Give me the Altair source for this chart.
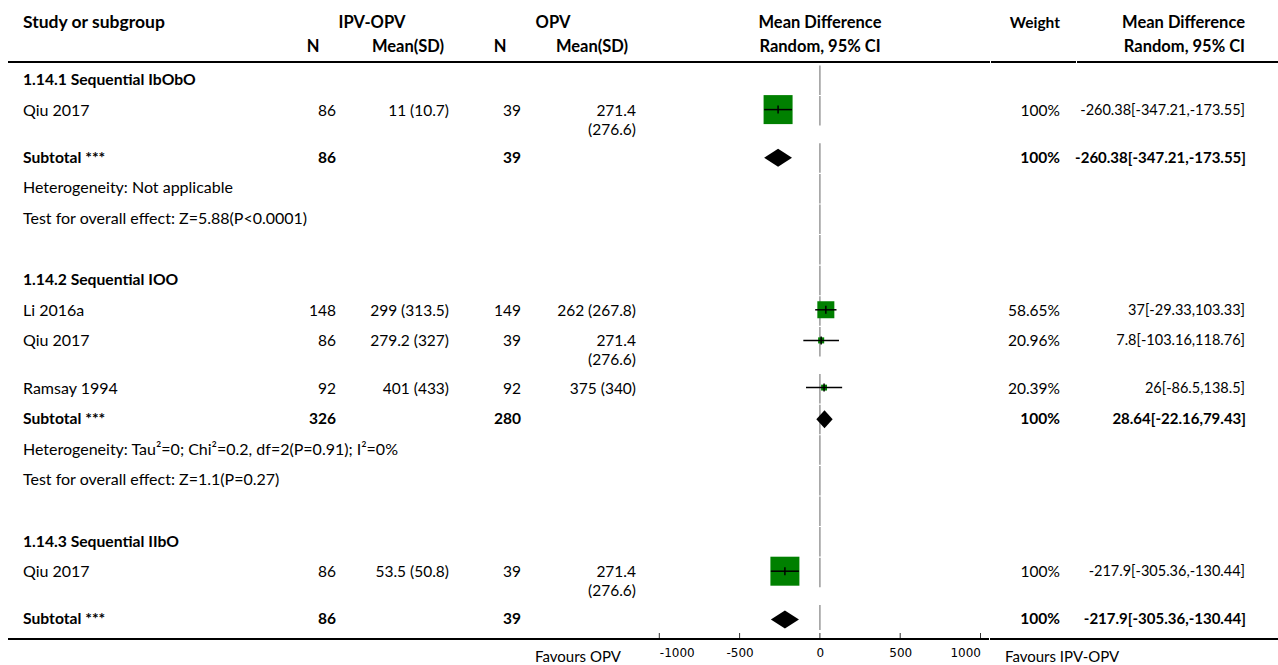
import altair as alt
import pandas as pd

# ---------------- data ----------------
groups = ["1.14.1 Sequential IbObO", "1.14.2 Sequential IOO", "1.14.3 Sequential IIbO"]
study_group = [0, 1, 1, 1, 2]
study_names = ["Qiu 2017", "Li 2016a", "Qiu 2017", "Ramsay 1994", "Qiu 2017"]
ipv_n = [86, 148, 86, 92, 86]
ipv_mean = ["11", "299", "279.2", "401", "53.5"]
ipv_sd = ["10.7", "313.5", "327", "433", "50.8"]
opv_n = [39, 149, 39, 92, 39]
opv_mean = ["271.4", "262", "271.4", "375", "271.4"]
opv_sd = ["276.6", "267.8", "276.6", "340", "276.6"]
weights = [100, 58.65, 20.96, 20.39, 100]
md = [-260.38, 37, 7.8, 26, -217.9]
md_lo = [-347.21, -29.33, -103.16, -86.5, -305.36]
md_hi = [-173.55, 103.33, 118.76, 138.5, -130.44]

sub_n1 = [86, 326, 86]
sub_n2 = [39, 280, 39]
sub_md = [-260.38, 28.64, -217.9]
sub_lo = [-347.21, -22.16, -305.36]
sub_hi = [-173.55, 79.43, -130.44]
heterogeneity = [
    "Heterogeneity: Not applicable",
    "Heterogeneity: Tau\u00b2=0; Chi\u00b2=0.2, df=2(P=0.91); I\u00b2=0%",
    None,
]
overall_effect = [
    "Test for overall effect: Z=5.88(P<0.0001)",
    "Test for overall effect: Z=1.1(P=0.27)",
    None,
]
axis_ticks = [-1000, -500, 0, 500, 1000]

# ---------------- layout ----------------
FONT = "Lato"
TOP_ROW = 80.0
STEP = 30.6
WRAP_EXTRA = 16.6
WRAP_LEN = 11

# column: (x, align, regular size, bold size)
COLS = {
    "study": (23, "left", 16, 15.7),
    "n1": (336, "right", 15.5, 15.5),
    "m1": (449, "right", 15.5, 15.5),
    "n2": (521, "right", 15.5, 15.5),
    "m2": (636, "right", 15.5, 15.5),
    "w": (1060, "right", 15.5, 15.5),
    "ci": (1245, "right", 14.5, 15),
}


def fmt(v):
    return f"{v:g}"


def ci_text(m, lo, hi):
    return f"{fmt(m)}[{fmt(lo)},{fmt(hi)}]"


texts = []      # col, y, t, bold
bands = []      # vertical zero-line pieces
studies = []    # forest rows for studies
diamonds = []   # pooled estimates


def add(col, y, t, bold=False):
    texts.append({"col": col, "y": y, "t": t, "bold": bold})


y = TOP_ROW
for g, gname in enumerate(groups):
    add("study", y, gname, True)
    bands.append({"y": y - 15, "y2": y + 15, "zero": 0})
    y += STEP
    for i, sg in enumerate(study_group):
        if sg != g:
            continue
        add("study", y, study_names[i])
        add("n1", y, str(ipv_n[i]))
        add("n2", y, str(opv_n[i]))
        wrapped = False
        for col, mean, sd in (("m1", ipv_mean[i], ipv_sd[i]), ("m2", opv_mean[i], opv_sd[i])):
            label = f"{mean} ({sd})"
            if len(label) > WRAP_LEN:
                add(col, y, mean)
                add(col, y + 19, f"({sd})")
                wrapped = True
            else:
                add(col, y, label)
        add("w", y, f"{fmt(weights[i])}%")
        add("ci", y, ci_text(md[i], md_lo[i], md_hi[i]))
        studies.append({"yc": y - 1, "t0": y - 5, "t1": y + 3, "md": md[i],
                        "lo": md_lo[i], "hi": md_hi[i], "w": weights[i]})
        bands.append({"y": y - 15, "y2": y + 15, "zero": 0})
        y += STEP + (WRAP_EXTRA if wrapped else 0)
    # subtotal row
    add("study", y, "Subtotal ***", True)
    add("n1", y, str(sub_n1[g]), True)
    add("n2", y, str(sub_n2[g]), True)
    add("w", y, "100%", True)
    add("ci", y, ci_text(sub_md[g], sub_lo[g], sub_hi[g]), True)
    diamonds += [
        {"id": g, "x": sub_lo[g], "top": y, "bot": y},
        {"id": g, "x": sub_md[g], "top": y - 9, "bot": y + 9},
        {"id": g, "x": sub_hi[g], "top": y, "bot": y},
    ]
    bands.append({"y": y - 15, "y2": min(y + 15, 630), "zero": 0})
    y += STEP
    if heterogeneity[g]:
        add("study", y, heterogeneity[g])
        bands.append({"y": y - 15, "y2": y + 15, "zero": 0})
        y += STEP
        add("study", y, overall_effect[g])
        bands.append({"y": y - 15, "y2": y + 15, "zero": 0})
        y += STEP
    if g < len(groups) - 1:
        bands.append({"y": y - 15, "y2": y + 15, "zero": 0})
        y += STEP

text_df = pd.DataFrame(texts)
band_df = pd.DataFrame(bands)
band_df["y"] = band_df["y"] + 0.5
study_df = pd.DataFrame(studies)
diamond_df = pd.DataFrame(diamonds)
tick_df = pd.DataFrame({"tick": axis_ticks})
one_df = pd.DataFrame({"k": [0]})  # single row for fixed annotations

# ---------------- scales ----------------
yscale = alt.Scale(domain=[0, 639], range=[0, 639], nice=False, zero=False)
xscale = alt.Scale(domain=[-1000, 1000], range=[659.3, 980.5], nice=False, zero=False)
xaxis = alt.Axis(values=axis_ticks, ticks=False, domain=False, grid=False,
                 labelFlush=True, labelPadding=8, labelFont="DejaVu Sans",
                 labelFontSize=12, labelColor="black", title=None,
                 labelExpr="'' + datum.value")


def X(field):
    return alt.X(f"{field}:Q", scale=xscale, axis=xaxis)


def Y(field):
    return alt.Y(f"{field}:Q", scale=yscale, axis=None)


def Y2(field):
    return alt.Y2(f"{field}:Q")


layers = []

# zero line
layers.append(
    alt.Chart(band_df).mark_rule(color="#999999", strokeWidth=1.5).encode(
        x=X("zero"), y=Y("y"), y2=Y2("y2"))
)

# squares sized by weight
layers.append(
    alt.Chart(study_df).mark_square(color="#008000", opacity=1).encode(
        x=X("md"), y=Y("yc"),
        size=alt.Size("w:Q", scale=alt.Scale(type="pow", exponent=2, domain=[0, 100], range=[0, 841]),
                      legend=None))
)
# confidence intervals
layers.append(
    alt.Chart(study_df).mark_rule(color="black", strokeWidth=1.5).encode(
        x=X("lo"), x2=alt.X2("hi:Q"), y=Y("yc"))
)
layers.append(
    alt.Chart(study_df).mark_rule(color="black", strokeWidth=1.5).encode(
        x=X("md"), y=Y("t0"), y2=Y2("t1"))
)
# pooled diamonds
layers.append(
    alt.Chart(diamond_df).mark_area(color="black", opacity=1, interpolate="linear").encode(
        x=X("x"), y=Y("top"), y2=Y2("bot"), detail="id:N")
)
# axis ticks pointing up from the baseline
layers.append(
    alt.Chart(tick_df).mark_rule(color="#333333", strokeWidth=1).encode(
        x=X("tick"), y=alt.value(633), y2=alt.value(639))
)

# horizontal rules
for (x0, x1, yy) in [(8, 990, 62), (991, 1076, 62), (1077, 1278, 62),
                     (8, 989, 639), (990, 1278, 639)]:
    layers.append(
        alt.Chart(one_df).mark_rule(color="black", strokeWidth=2).encode(
            x=alt.value(x0), x2=alt.value(x1), y=alt.value(yy))
    )

# table text
for col, (cx, align, fs_reg, fs_bold) in COLS.items():
    for bold in (False, True):
        sub = text_df[(text_df["col"] == col) & (text_df["bold"] == bold)]
        if sub.empty:
            continue
        layers.append(
            alt.Chart(sub).mark_text(align=align, baseline="middle", font=FONT,
                                     fontSize=fs_bold if bold else fs_reg,
                                     fontWeight="bold" if bold else "normal", color="black").encode(
                x=alt.value(cx + (1 if (bold and col == "ci") else 0)), y=Y("y"), text="t:N")
        )

# column headers
headers = [
    ("Study or subgroup", 23, 22, "left", 17.5),
    ("IPV-OPV", 372, 22, "center", 16.5),
    ("OPV", 553, 22, "center", 16.5),
    ("Mean Difference", 820, 22, "center", 16.5),
    ("Weight", 1060, 22, "right", 15.5),
    ("Mean Difference", 1245, 22, "right", 16.5),
    ("N", 313, 46, "center", 16.5),
    ("Mean(SD)", 408, 46, "center", 16.5),
    ("N", 500, 46, "center", 16.5),
    ("Mean(SD)", 592, 46, "center", 16.5),
    ("Random, 95% CI", 820, 46, "center", 16.5),
    ("Random, 95% CI", 1245, 46, "right", 16.5),
]
for (t, hx, hy, align, fs) in headers:
    layers.append(
        alt.Chart(one_df).mark_text(text=t, align=align, baseline="middle", font=FONT,
                                    fontSize=fs, fontWeight="bold", color="black").encode(
            x=alt.value(hx), y=alt.value(hy + 0.5))
    )

# favours labels
for (t, fx, align) in [("Favours OPV", 621, "right"), ("Favours IPV-OPV", 1005, "left")]:
    layers.append(
        alt.Chart(one_df).mark_text(text=t, align=align, baseline="middle", font=FONT, fontSize=15,
                                    fontWeight="normal", color="black").encode(
            x=alt.value(fx), y=alt.value(657))
    )

chart = alt.layer(*layers).properties(
    width=1278, height=639, autosize="none",
    padding={"left": 0, "top": 0, "right": 0, "bottom": 26},
).configure_view(stroke=None)

chart.save("out.html", embed_options={"renderer": "svg", "actions": False})
